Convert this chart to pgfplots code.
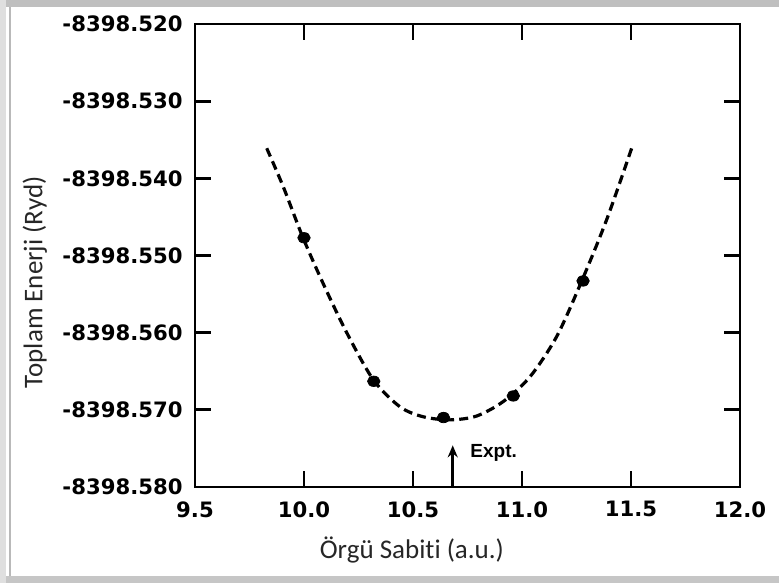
\documentclass[border=0pt]{standalone}
\usepackage{fontspec}
\usepackage{pgfplots}
\pgfplotsset{compat=1.18}
\usetikzlibrary{arrows.meta}
\setmainfont{Carlito}[Ligatures=NoCommon]
\newfontfamily\tickfont{DejaVu Sans}
\newfontfamily\exptfont{Liberation Sans}
\makeatletter
\newcommand\Etrafo[1]{%
  \pgfutil@in@{Y}{#1}%
  \ifpgfutil@in@
    \pgfmathfloattosci{#1}\let\Etmp\pgfmathresult
  \else
    \def\Etmp{#1}%
  \fi
  \edef\pgfmathresult{\fpeval{(\Etmp+8398.55)*1000}}%
}
\makeatother
\begin{document}
\begin{tikzpicture}
\useasboundingbox (0,0) rectangle (389.5pt,291.5pt);
\fill[gray!45] (0,0) rectangle (389.5pt,3.5pt);
\fill[gray!50] (0,288pt) rectangle (389.5pt,291.5pt);
\fill[gray!25] (0,0) rectangle (3pt,291.5pt);
\draw[gray!55, line width=1.2pt] (5pt,3.5pt) -- (5pt,288pt);
\begin{axis}[
  at={(97.5pt,48pt)}, anchor=south west,
  scale only axis, width=272.5pt, height=231.5pt,
  y coord trafo/.code={\Etrafo{#1}},
  xmin=9.5, xmax=12.0,
  ymin=-8398.58, ymax=-8398.52,
  xtick={9.5,10,10.5,11,11.5,12},
  xticklabels={9.5,10.0,10.5,11.0,11.5,12.0},
  ytick={-8398.58,-8398.57,-8398.56,-8398.55,-8398.54,-8398.53,-8398.52},
  yticklabels={-8398.580,-8398.570,-8398.560,-8398.550,-8398.540,-8398.530,-8398.520},
  tick align=inside, tick pos=both,
  major tick length=8pt,
  every tick/.style={black, line width=1.4pt},
  axis line style={black, line width=1.3pt},
  ticklabel style={font=\tickfont\bfseries\fontsize{10.6}{12}\selectfont},
  xticklabel style={inner sep=0pt, yshift=-7pt},
  yticklabel style={inner sep=0pt, xshift=-6pt},
  xlabel={Örgü Sabiti (a.u.)},
  ylabel={Toplam Enerji (Ryd)},
  label style={font=\fontsize{13.5}{15}\selectfont, black!85},
  xlabel style={at={(axis description cs:0.398,-0.136)}, anchor=center},
  ylabel style={at={(axis description cs:-0.294,0.442)}, anchor=center},
  clip=false,
]
\addplot[black, line width=1.6pt, dash pattern=on 4.5pt off 2.6pt, smooth, tension=0.5] coordinates {
  (9.829,-8398.5361) (9.905,-8398.5411) (9.994,-8398.5476) (10.089,-8398.5537)
  (10.196,-8398.5600) (10.318,-8398.5661) (10.440,-8398.5696) (10.547,-8398.5709)
  (10.670,-8398.5713) (10.792,-8398.5708) (10.915,-8398.5689) (11.037,-8398.5657)
  (11.159,-8398.5605) (11.274,-8398.5533) (11.389,-8398.5453) (11.503,-8398.5361)
};
\addplot[only marks, mark=*, mark size=2.6pt, black, mark options={xscale=1.2}] coordinates {
  (10.00,-8398.5477) (10.32,-8398.5663) (10.64,-8398.5710) (10.96,-8398.5682) (11.28,-8398.5533)
};
\draw[line width=1.5pt, -{Stealth[length=6pt,width=5pt]}] (rel axis cs:0.4729,0) -- (rel axis cs:0.4729,0.09);
\node[anchor=west, inner sep=0pt, font=\exptfont\bfseries\fontsize{9.5}{11}\selectfont] at (rel axis cs:0.5046,0.074) {Expt.};
\end{axis}
\end{tikzpicture}
\end{document}
